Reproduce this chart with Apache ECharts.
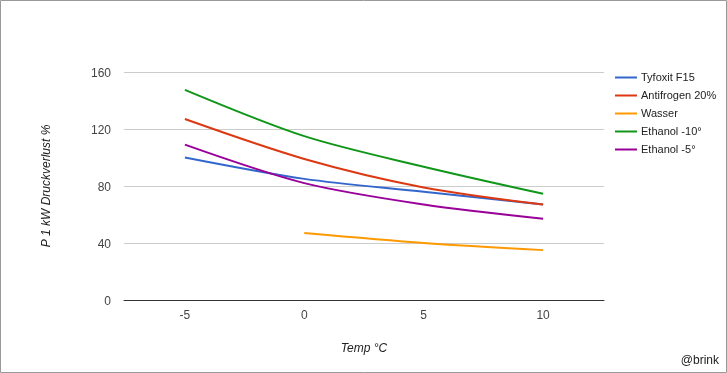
<!DOCTYPE html>
<html><head><meta charset="utf-8">
<script src="https://cdn.jsdelivr.net/npm/echarts@6/dist/echarts.min.js"></script>
<style>html,body{margin:0;padding:0;background:#fff}#c{width:727px;height:373px}</style>
</head><body><div id="c"></div>
<script>
const temps = [-5, 0, 5, 10];
const xTicks = [-5, 0, 5, 10];
const seriesNames = ['Tyfoxit F15', 'Antifrogen 20%', 'Wasser', 'Ethanol -10°', 'Ethanol -5°'];
const tyfoxit = [100, 85, 76, 67];
const antifrogen = [127, 99, 79, 67];
const wasser = [null, 47, 40, 35];
const ethanol10 = [147.5, 115, 93.5, 74.5];
const ethanol5 = [109, 82, 67, 57];
const colors = ['#3366cc', '#dc3912', '#ff9900', '#109618', '#990099'];
const allValues = [tyfoxit, antifrogen, wasser, ethanol10, ethanol5];

const chart = echarts.init(document.getElementById('c'), null, {renderer: 'canvas'});
const font = 'Liberation Sans, Arial, sans-serif';
chart.setOption({
  animation: false,
  textStyle: {fontFamily: font},
  grid: {left: 124, right: 123, top: 72, bottom: 73},
  xAxis: {
    type: 'value', min: -7.55, max: 12.55,
    name: 'Temp °C', nameLocation: 'middle', nameGap: 43,
    nameTextStyle: {fontStyle: 'italic', fontSize: 12, color: '#222', fontFamily: font},
    axisLine: {show: true, lineStyle: {color: '#333', width: 1}},
    axisTick: {show: false},
    splitLine: {show: false},
    axisLabel: {customValues: xTicks, color: '#444', fontSize: 12, margin: 10, fontFamily: font}
  },
  yAxis: {
    type: 'value', min: 0, max: 160, interval: 40,
    name: 'P 1 kW Druckverlust %', nameLocation: 'middle', nameGap: 71, nameRotate: 90,
    nameTextStyle: {fontStyle: 'italic', fontSize: 12, color: '#222', fontFamily: font},
    axisLine: {show: false}, axisTick: {show: false},
    splitLine: {lineStyle: {color: '#cccccc', width: 1}},
    axisLabel: {color: '#444', fontSize: 12, margin: 13, fontFamily: font,
      formatter: '{a|{value}}',
      rich: {a: {color: '#444', fontSize: 12, fontFamily: font, padding: [4, 0, 0, 0]}}}
  },
  legend: {
    orient: 'vertical', left: 610, top: 67, itemWidth: 22, itemHeight: 12, itemGap: 7,
    icon: 'path://M0,5 L22,5 L22,7 L0,7 Z',
    textStyle: {fontSize: 11, color: '#222', fontFamily: font, padding: [0, 0, 0, -1]},
    data: seriesNames
  },
  series: seriesNames.map((n, i) => ({
    name: n, type: 'line', smooth: 0.3, symbol: 'none', color: colors[i],
    lineStyle: {width: 2, color: colors[i]},
    data: temps.map((t, j) => allValues[i][j] == null ? null : [t, allValues[i][j]])
  })),
  graphic: [
    {type: 'rect', shape: {x: 0.5, y: 0.5, width: 726, height: 372}, style: {fill: 'none', stroke: '#999', lineWidth: 1}, silent: true},
    {type: 'text', right: 8, top: 355, style: {text: '@brink', fontSize: 12, fill: '#222', fontFamily: font}}
  ]
});
</script></body></html>
